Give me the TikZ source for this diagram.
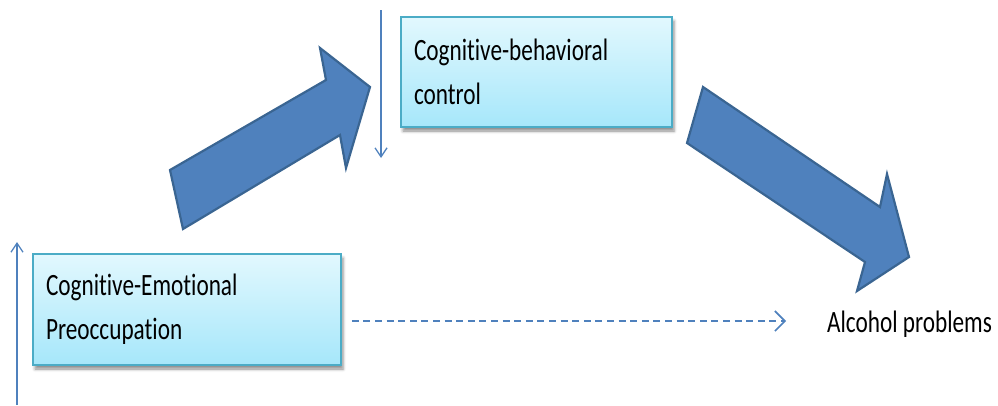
\documentclass[tikz,border=0pt]{standalone}
\usepackage{fontspec}
\setmainfont{Carlito}[FakeStretch=0.75,Ligatures={NoCommon}]
\usetikzlibrary{arrows.meta,shadows.blur}
\definecolor{arrowfill}{HTML}{4F81BD}
\definecolor{arrowline}{HTML}{3A6592}
\definecolor{boxline}{HTML}{4BACC6}
\definecolor{boxtop}{HTML}{E2F8FE}
\definecolor{boxbot}{HTML}{A6E7FA}
\tikzset{
  conceptbox/.style={draw=boxline, line width=1.6pt, top color=boxtop, bottom color=boxbot,
    rectangle, inner sep=0pt, align=left, font=\fontsize{31}{44}\selectfont,
    blur shadow={shadow xshift=2pt, shadow yshift=-4pt, shadow blur radius=3pt, shadow opacity=45}},
  bigarrow/.style={fill=arrowfill, draw=arrowline, line width=2.2pt, line join=miter},
  thinarrow/.style={draw=arrowfill, line width=1.3pt, -{Straight Barb[length=9pt,width=12pt,line width=1.3pt]}},
  dasharrow/.style={draw=arrowfill, line width=2pt, dash pattern=on 7pt off 4.6pt,
    -{Straight Barb[length=10pt,width=20pt,line width=1.6pt]}},
  plainlabel/.style={inner sep=0pt, font=\fontsize{31}{44}\selectfont}
}
\begin{document}
\begin{tikzpicture}[x=1pt,y=-1pt]
\useasboundingbox (0,0) rectangle (998,405);
% big arrows
\draw[bigarrow] (183,229) -- (170,170) -- (326,80) -- (320,48) -- (370,87) -- (346,168) -- (340,135) -- cycle;
\draw[bigarrow] (703,87) -- (687,143) -- (865,262) -- (857,291) -- (909,257) -- (887,174) -- (880,207) -- cycle;
% boxes
\node[conceptbox, minimum width=308pt, minimum height=111pt, text width=282pt] (cep) at (187,309.5)
  {Cognitive-Emotional\\Preoccupation};
\node[conceptbox, minimum width=271pt, minimum height=110pt, text width=245pt] (cbc) at (536.5,72)
  {Cognitive-behavioral\\control};
\node[plainlabel, anchor=base west] (alc) at (827,332) {Alcohol problems};
% thin arrows
\coordinate (l1) at (17,405);
\coordinate (l2) at (17,242);
\draw[thinarrow] (l1) -- (l2);
\coordinate (r1) at (381,10);
\coordinate (r2) at (381,158);
\draw[thinarrow] (r1) -- (r2);
% dashed arrow
\coordinate (dashend) at (786,321);
\draw[dasharrow, shorten <=10pt] (cep.east |- dashend) -- (dashend);
\end{tikzpicture}
\end{document}
